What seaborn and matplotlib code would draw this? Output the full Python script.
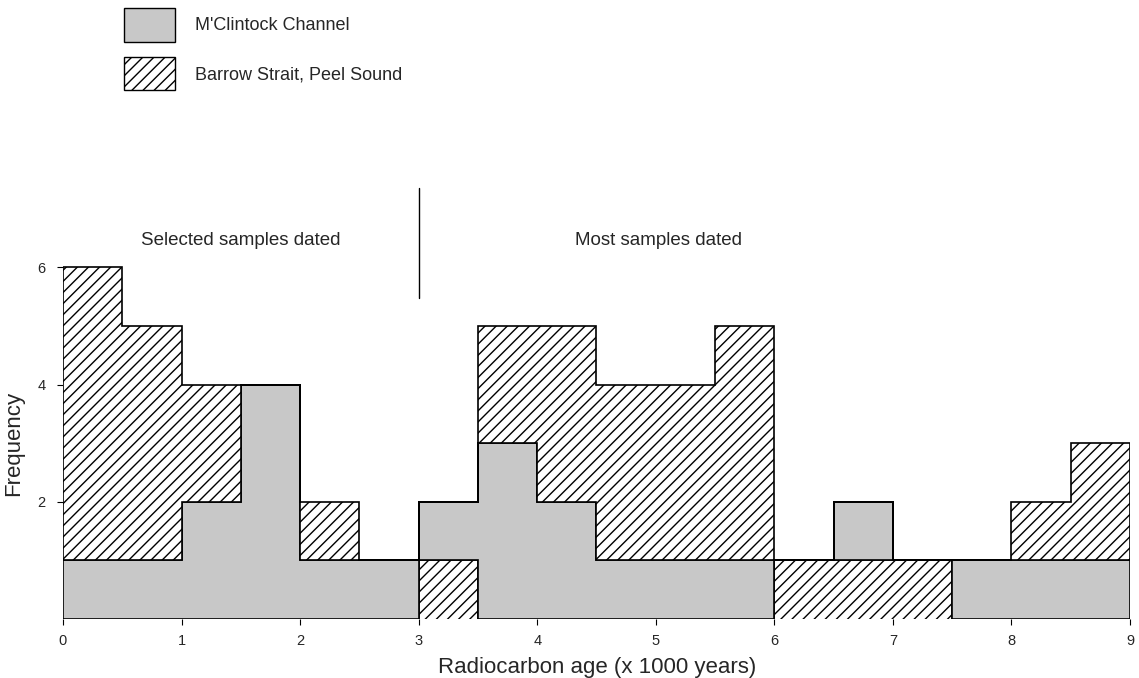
import numpy as np
import matplotlib
matplotlib.use("Agg")
import matplotlib.pyplot as plt
import seaborn as sns
from matplotlib.patches import Patch

# bins of 500 years from 0 to 9 (x 1000 years)
bin_edges = [0.0, 0.5, 1.0, 1.5, 2.0, 2.5, 3.0, 3.5, 4.0, 4.5,
             5.0, 5.5, 6.0, 6.5, 7.0, 7.5, 8.0, 8.5, 9.0]
# Barrow Strait, Peel Sound counts drawn below the grey block
barrow_lower = [0, 0, 0, 0, 0, 0, 1, 0, 0, 0, 0, 0, 1, 1, 1, 0, 0, 0]
# M'Clintock Channel counts
mclintock = [1, 1, 2, 4, 1, 1, 1, 3, 2, 1, 1, 1, 0, 1, 0, 1, 1, 1]
# Barrow Strait, Peel Sound counts drawn above the grey block
barrow_upper = [5, 4, 2, 0, 1, 0, 0, 2, 3, 3, 3, 4, 0, 0, 0, 0, 1, 2]

x_ticks = [0, 1, 2, 3, 4, 5, 6, 7, 8, 9]
y_ticks = [2, 4, 6]
legend_labels = ["M'Clintock Channel", "Barrow Strait, Peel Sound"]
region_labels = ["Selected samples dated", "Most samples dated"]

sns.set_theme(style="white")
plt.rcParams['font.family'] = ['Liberation Sans', 'DejaVu Sans']
plt.rcParams['hatch.linewidth'] = 1.0

fig = plt.figure(figsize=(11.39, 6.78), dpi=100)
ax = fig.add_axes([0.0553, 0.087, 0.9368, 0.6917])

grey = "#c8c8c8"
lo = np.array(barrow_lower)
mc = np.array(mclintock)
up = np.array(barrow_upper)
edges = np.array(bin_edges)

ax.stairs(lo, edges, baseline=0, fill=True, facecolor="white",
          edgecolor="black", linewidth=1.2, hatch="///")
ax.stairs(lo + mc, edges, baseline=lo, fill=True, facecolor=grey,
          edgecolor="black", linewidth=1.2)
ax.stairs(lo + mc + up, edges, baseline=lo + mc, fill=True, facecolor="white",
          edgecolor="black", linewidth=1.2, hatch="///")

ax.set_xlim(0, 9)
ax.set_ylim(0, 8)
ax.set_xticks(x_ticks)
ax.set_yticks(y_ticks)
for s in ax.spines.values():
    s.set_visible(False)
ax.tick_params(axis="both", which="major", width=0.8, color="black",
               labelsize=10.5, direction="out", bottom=True, left=True)
ax.tick_params(axis="x", length=4, pad=6.5)
ax.tick_params(axis="y", length=4.5, pad=8)
ax.set_xlabel("Radiocarbon age (x 1000 years)", fontsize=16)
ax.xaxis.set_label_coords(0.501, -0.080)
ax.set_ylabel("Frequency", fontsize=16)
ax.yaxis.set_label_coords(-0.036, 0.375)

# divider between dating regimes
ax.plot([3, 3], [5.47, 7.35], color="black", linewidth=1.0, clip_on=False)
ax.text(1.50, 6.46, region_labels[0], ha="center", va="center", fontsize=13.5)
ax.text(5.02, 6.46, region_labels[1], ha="center", va="center", fontsize=13.5)

handles = [Patch(facecolor=grey, edgecolor="black", linewidth=1.0),
           Patch(facecolor="white", edgecolor="black", linewidth=1.0, hatch="///")]
fig.legend(handles, legend_labels, loc="upper left",
           bbox_to_anchor=(0.1089, 0.988), frameon=False, fontsize=13,
           handlelength=2.82, handleheight=2.47, labelspacing=0.85,
           handletextpad=1.1, borderaxespad=0, borderpad=0)

fig.savefig("out.png", dpi=100)
